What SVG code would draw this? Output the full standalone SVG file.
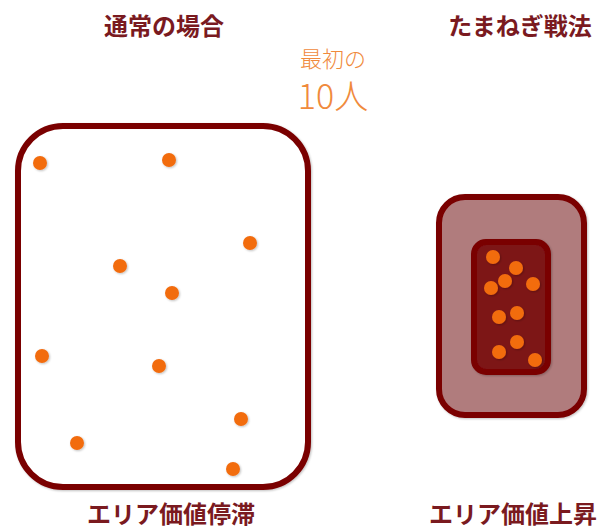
<svg xmlns="http://www.w3.org/2000/svg" width="606" height="531" viewBox="0 0 606 531">
<defs>
<filter id="sh" x="-50%" y="-50%" width="200%" height="200%"><feGaussianBlur in="SourceAlpha" stdDeviation="1"/><feOffset dx="0.5" dy="1" result="b"/><feFlood flood-color="#000" flood-opacity="0.25"/><feComposite in2="b" operator="in"/><feMerge><feMergeNode/><feMergeNode in="SourceGraphic"/></feMerge></filter>
</defs>
<style>
.title{font-family:"Noto Sans CJK JP","Noto Sans",sans-serif;font-weight:700;font-size:24px;fill:#7a1a1f;text-anchor:middle}
.note{font-family:"Noto Sans CJK JP","Noto Sans",sans-serif;font-weight:300;fill:#f08a3c;text-anchor:middle}
.dot{fill:#f26c10;filter:url(#sh)}
.box{stroke:#7a0000;stroke-width:6}
</style>
<rect width="606" height="531" fill="#ffffff"/>
<text class="title" x="164" y="35">通常の場合</text>
<text class="title" x="520" y="35">たまねぎ戦法</text>
<text class="note" x="333" y="67" font-size="22">最初の</text>
<text class="note" x="333" y="109" font-size="34">10人</text>
<g id="normal">
<rect class="box" x="18" y="126" width="290" height="361" rx="45" fill="#ffffff" filter="url(#sh)"/>
<circle class="dot" cx="40" cy="163" r="7"/>
<circle class="dot" cx="169" cy="160" r="7"/>
<circle class="dot" cx="250" cy="243" r="7"/>
<circle class="dot" cx="120" cy="266" r="7"/>
<circle class="dot" cx="172" cy="293" r="7"/>
<circle class="dot" cx="42" cy="356" r="7"/>
<circle class="dot" cx="159" cy="366" r="7"/>
<circle class="dot" cx="241" cy="419" r="7"/>
<circle class="dot" cx="77" cy="443" r="7"/>
<circle class="dot" cx="233" cy="469" r="7"/>
</g>
<g id="onion">
<rect class="box" x="439" y="197" width="145" height="218" rx="26" fill="#b07b7d" filter="url(#sh)"/>
<rect class="box" x="474" y="242" width="74" height="130" rx="12" fill="#7d1216" filter="url(#sh)"/>
<circle class="dot" cx="493" cy="257" r="7"/>
<circle class="dot" cx="516" cy="268" r="7"/>
<circle class="dot" cx="505" cy="281" r="7"/>
<circle class="dot" cx="491" cy="288" r="7"/>
<circle class="dot" cx="533" cy="284" r="7"/>
<circle class="dot" cx="499" cy="317" r="7"/>
<circle class="dot" cx="517" cy="313" r="7"/>
<circle class="dot" cx="499" cy="352" r="7"/>
<circle class="dot" cx="517" cy="342" r="7"/>
<circle class="dot" cx="535" cy="360" r="7"/>
</g>
<text class="title" x="171" y="523" font-size="23">エリア価値停滞</text>
<text class="title" x="513" y="523" font-size="23">エリア価値上昇</text>
</svg>
